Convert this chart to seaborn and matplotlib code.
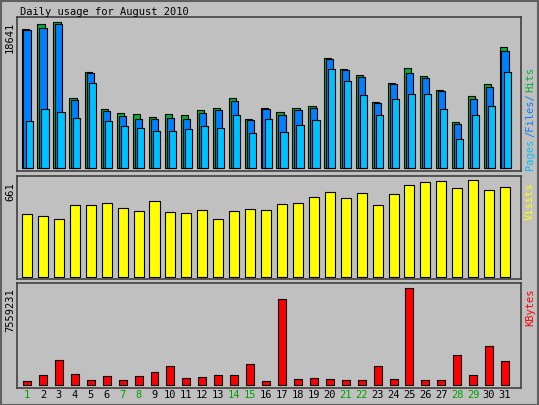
import numpy as np
import pandas as pd
import matplotlib
matplotlib.use("Agg")
import matplotlib.pyplot as plt
import seaborn as sns

days = list(range(1, 32))
weekends = [1, 7, 8, 14, 15, 21, 22, 28, 29]
hits = [17742, 18383, 18641, 8892, 12227, 7524, 6968, 6840, 6455, 6840, 6712, 7353, 7610, 8892, 6199,
        7610, 7097, 7610, 7866, 14022, 12611, 11842, 8379, 10816, 12740, 11714, 9918, 5814, 9149, 10688, 15433]
files = [17613, 17870, 18383, 8636, 12098, 7225, 6584, 6199, 6199, 6327, 6199, 6968, 7353, 8507, 6071,
         7481, 6712, 7353, 7610, 13894, 12483, 11585, 8251, 10688, 12098, 11457, 9790, 5558, 8764, 10303, 14920]
pages = [5942, 7481, 7097, 6327, 10816, 5942, 5301, 5045, 4788, 4788, 4916, 5301, 5045, 6712, 4532,
         6199, 4660, 5429, 6071, 12611, 11072, 9277, 6712, 8764, 9405, 9405, 7481, 3762, 6712, 7866, 12227]
visits = [431, 417, 397, 494, 494, 508, 473, 452, 515, 445, 438, 459, 397, 452, 466, 459,
          501, 508, 543, 577, 536, 571, 494, 564, 626, 647, 654, 605, 661, 591, 612]
kbytes = [315000, 787000, 1969000, 866000, 394000, 709000, 394000, 709000, 1024000, 1496000, 551000,
          630000, 787000, 787000, 1654000, 315000, 6693000, 472000, 551000, 472000, 394000, 394000,
          1496000, 472000, 7559231, 394000, 394000, 2362000, 787000, 3071000, 1890000]

GRAY = "#C0C0C0"
W, H = 539, 405
fig = plt.figure(figsize=(W / 100, H / 100), dpi=100, facecolor=GRAY)
mono = "DejaVu Sans Mono"

def make_ax(top, bottom):
    ax = fig.add_axes([17 / W, 1 - bottom / H, 504 / W, (bottom - top) / H])
    ax.set_facecolor(GRAY)
    for s in ax.spines.values():
        s.set_color("#404040")
        s.set_linewidth(1.2)
    ax.set_xticks([])
    ax.set_yticks([])
    ax.set_xlim(0.37, 32.0)
    return ax

x = np.array(days, dtype=float)

ax1 = make_ax(17, 171)
for vals, off, col in [(hits, -0.12, "#00B030"), (files, 0.0, "#0080FF"), (pages, 0.13, "#00C0FF")]:
    sns.barplot(x=x + off, y=vals, native_scale=True, width=0.45, color=col, saturation=1,
                edgecolor="black", linewidth=0.8, ax=ax1)
ax1.set_xlim(0.37, 32.0)
ax1.set_ylim(-383, 19280)
ax1.set_xticks([]); ax1.set_yticks([])
ax1.set_xlabel(""); ax1.set_ylabel("")

ax2 = make_ax(176, 279)
sns.barplot(x=x, y=visits, native_scale=True, width=0.63, color="#FFFF00", saturation=1,
            edgecolor="black", linewidth=0.8, ax=ax2)
ax2.set_xlim(0.37, 32.0)
ax2.set_ylim(-14, 689)
ax2.set_xticks([]); ax2.set_yticks([])

ax3 = make_ax(283, 388)
sns.barplot(x=x, y=kbytes, native_scale=True, width=0.5, color="#FF0000", saturation=1,
            edgecolor="black", linewidth=0.8, ax=ax3)
ax3.set_xlim(0.37, 32.0)
ax3.set_ylim(-236000, 7953000)
ax3.set_xticks([]); ax3.set_yticks([])

def px(xp, yp):
    return xp / W, 1 - yp / H

fig.text(*px(20, 12), "Daily usage for August 2010", fontsize=7.5, family=mono, va="center")
fig.text(*px(10, 22), "18641", fontsize=7.5, family=mono, rotation=90, ha="center", va="top")
fig.text(*px(10, 182), "661", fontsize=7.5, family=mono, rotation=90, ha="center", va="top")
fig.text(*px(10, 288), "7559231", fontsize=7.5, family=mono, rotation=90, ha="center", va="top")

fig.text(*px(530, 170), "Pages", fontsize=7.5, family=mono, rotation=90, ha="center", va="bottom", color="#00C0FF")
fig.text(*px(530, 137), "/Files/", fontsize=7.5, family=mono, rotation=90, ha="center", va="bottom", color="#0080FF")
fig.text(*px(530, 92), "Hits", fontsize=7.5, family=mono, rotation=90, ha="center", va="bottom", color="#00B030")
fig.text(*px(530, 182), "Visits", fontsize=7.5, family=mono, rotation=90, ha="center", va="top", color="#FFFF00")
fig.text(*px(530, 288), "KBytes", fontsize=7.5, family=mono, rotation=90, ha="center", va="top", color="#FF0000")

for d in days:
    xp = 27 + (d - 1) * 15.93
    col = "#00A000" if d in weekends else "black"
    fig.text(*px(xp, 395), str(d), fontsize=7.5, family=mono, ha="center", va="center", color=col)

fig.patches.append(plt.Rectangle((0.5 / W, 0.5 / H), 1 - 1.5 / W, 1 - 1.5 / H, transform=fig.transFigure,
                                 fill=False, edgecolor="#606060", linewidth=1.5))

fig.savefig("out.png", dpi=100, facecolor=GRAY)
